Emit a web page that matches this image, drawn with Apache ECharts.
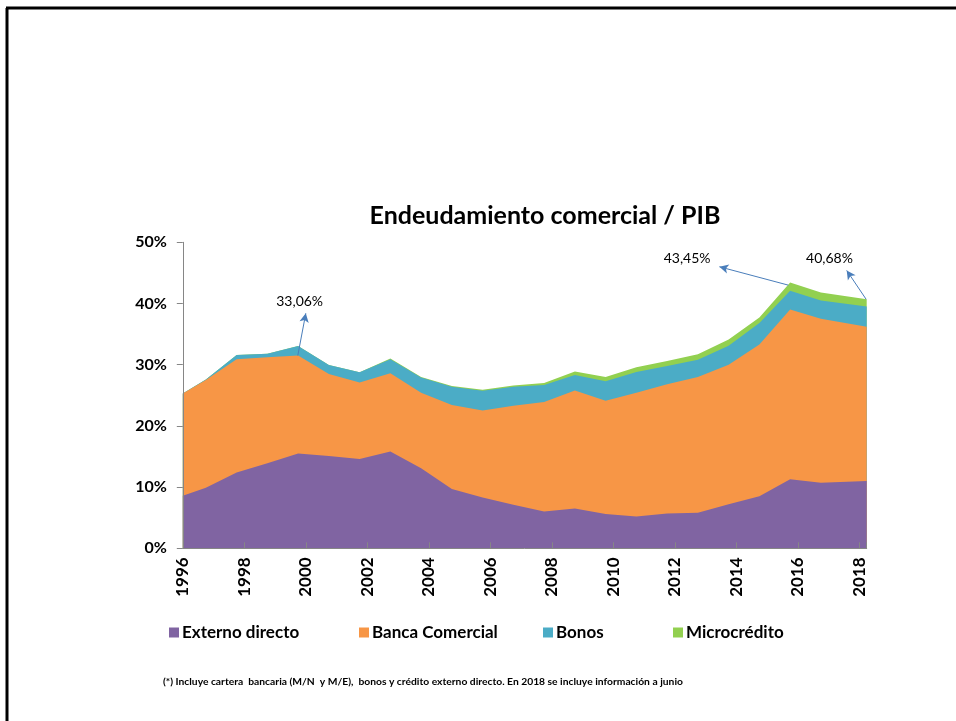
<!DOCTYPE html>
<html><head><meta charset="utf-8">
<script src="https://cdn.jsdelivr.net/npm/echarts@6/dist/echarts.min.js"></script>
<style>html,body{margin:0;padding:0;background:#fff}#c{width:956px;height:721px}</style>
</head><body><div id="c"></div>
<script>
// Fecha de cada observación (años decimales, eje de fechas)
const fechas = [1996.0, 1996.75, 1997.75, 1998.75, 1999.75, 2000.75, 2001.75, 2002.75, 2003.75, 2004.75, 2005.75, 2006.75, 2007.75, 2008.75, 2009.75, 2010.75, 2011.75, 2012.75, 2013.75, 2014.75, 2015.75, 2016.75, 2018.24];
const anioEtiquetas = [1996, 1998, 2000, 2002, 2004, 2006, 2008, 2010, 2012, 2014, 2016, 2018];
// % del PIB
const externoDirecto = [8.6, 9.9, 12.4, 13.9, 15.5, 15.1, 14.6, 15.8, 13.1, 9.7, 8.3, 7.1, 6.0, 6.5, 5.6, 5.2, 5.7, 5.8, 7.2, 8.5, 11.3, 10.7, 11.0];
const bancaComercial = [16.7, 17.6, 18.5, 17.3, 16.0, 13.4, 12.5, 12.8, 12.3, 13.7, 14.2, 16.2, 17.9, 19.3, 18.5, 20.2, 21.1, 22.2, 22.8, 24.8, 27.7, 26.8, 25.2];
const bonos = [0.0, 0.1, 0.7, 0.6, 1.56, 1.45, 1.65, 2.3, 2.5, 3.0, 3.25, 3.1, 2.8, 2.5, 3.2, 3.4, 3.0, 2.8, 3.1, 3.5, 3.1, 3.0, 3.3];
const microcredito = [0.0, 0.0, 0.0, 0.0, 0.0, 0.0, 0.0, 0.1, 0.1, 0.1, 0.15, 0.2, 0.3, 0.6, 0.7, 0.8, 0.8, 0.9, 1.0, 0.9, 1.35, 1.3, 1.18];
const anotaciones = ['33,06%', '43,45%', '40,68%'];

const FONT = 'Lato';
const chart = echarts.init(document.getElementById('c'), null, {renderer: 'canvas'});

// Apilado: cada capa se dibuja como área desde 0 hasta su suma acumulada,
// las capas inferiores se pintan encima de las superiores.
const capas = [
  {name: 'Externo directo', vals: externoDirecto, color: '#8064A2'},
  {name: 'Banca Comercial', vals: bancaComercial, color: '#F79646'},
  {name: 'Bonos', vals: bonos, color: '#4BACC6'},
  {name: 'Microcrédito', vals: microcredito, color: '#92D050'}
];
const acumulado = fechas.map(() => 0);
const series = capas.map((c, k) => {
  const data = fechas.map((t, i) => { acumulado[i] += c.vals[i]; return [t, +acumulado[i].toFixed(4)]; });
  return {
    name: c.name, type: 'line', symbol: 'none', smooth: false, z: 10 - k,
    lineStyle: {width: 0, color: c.color}, itemStyle: {color: c.color},
    areaStyle: {color: c.color, opacity: 1, origin: 'start'},
    data: data
  };
});
const sMicro = series[3];
const arrowStyle = {color: '#4A7EBB', width: 1, type: 'solid'};
sMicro.markLine = {
  silent: true, symbol: ['none', 'arrow'], symbolSize: [7, 9], z: 20,
  lineStyle: arrowStyle, label: {show: false}, animation: false,
  data: [
    [{coord: [1999.74, 31.5]}, {coord: [2000.0, 38.4]}],
    [{coord: [2015.69, 43.0]}, {coord: [2013.45, 46.0]}],
    [{coord: [2018.22, 40.7]}, {coord: [2017.59, 45.4]}]
  ]
};
sMicro.markPoint = {
  silent: true, symbol: 'circle', symbolSize: 0, animation: false, z: 20,
  label: {show: true, position: 'inside', color: '#000', fontFamily: FONT, fontSize: 14,
          formatter: p => p.name},
  data: [
    {name: anotaciones[0], coord: [1999.8, 40.4]},
    {name: anotaciones[1], coord: [2012.4, 47.4]},
    {name: anotaciones[2], coord: [2017.03, 47.4]}
  ]
};

const legendBase = {icon: 'rect', itemWidth: 10, itemHeight: 10, top: 619,
  textStyle: {fontFamily: FONT, fontSize: 17, fontWeight: 'bold', color: '#000', padding: [0, 0, 0, -2]}, selectedMode: false};

chart.setOption({
  animation: false,
  backgroundColor: '#fff',
  title: {text: 'Endeudamiento comercial / PIB', left: 540, textAlign: 'center', top: 198,
    textStyle: {fontFamily: FONT, fontSize: 25, fontWeight: 'bold', color: '#000'}},
  grid: {left: 182.8, right: 89.3, top: 242.3, bottom: 172.7, containLabel: false},
  legend: [
    Object.assign({}, legendBase, {data: ['Externo directo'], left: 164}),
    Object.assign({}, legendBase, {data: ['Banca Comercial'], left: 354}),
    Object.assign({}, legendBase, {data: ['Bonos'], left: 538}),
    Object.assign({}, legendBase, {data: ['Microcrédito'], left: 668})
  ],
  xAxis: {
    type: 'value', min: 1996, max: fechas[fechas.length - 1], interval: 2, z: 30,
    axisLine: {show: true, lineStyle: {color: '#868686', width: 1}},
    axisTick: {show: true, inside: true, length: 6, lineStyle: {color: '#868686'}},
    splitLine: {show: false},
    axisLabel: {rotate: 90, margin: 9, color: '#000', fontFamily: FONT, fontWeight: 'bold', fontSize: 17,
      showMaxLabel: true,
      formatter: v => anioEtiquetas.includes(Math.round(v * 100) / 100) ? String(v) : ''}
  },
  yAxis: {
    type: 'value', min: 0, max: 50, interval: 10, z: 30,
    axisLine: {show: true, lineStyle: {color: '#868686', width: 1}},
    axisTick: {show: true, inside: false, length: 6, lineStyle: {color: '#868686'}},
    splitLine: {show: false},
    axisLabel: {margin: 16, color: '#000', fontFamily: FONT, fontWeight: 'bold', fontSize: 16,
      formatter: v => v + '%'}
  },
  series: series,
  graphic: [
    {type: 'line', shape: {x1: 6, y1: 8, x2: 956, y2: 8}, style: {stroke: '#000', lineWidth: 3}, silent: true},
    {type: 'line', shape: {x1: 7, y1: 8, x2: 7, y2: 721}, style: {stroke: '#000', lineWidth: 3}, silent: true},
    {type: 'text', left: 163, top: 677, silent: true,
      style: {text: '(*) Incluye cartera  bancaria (M/N  y M/E),  bonos y crédito externo directo. En 2018 se incluye información a junio',
        fontFamily: FONT, fontSize: 10.3, fontWeight: 'bold', fill: '#000'}}
  ]
});
</script></body></html>
